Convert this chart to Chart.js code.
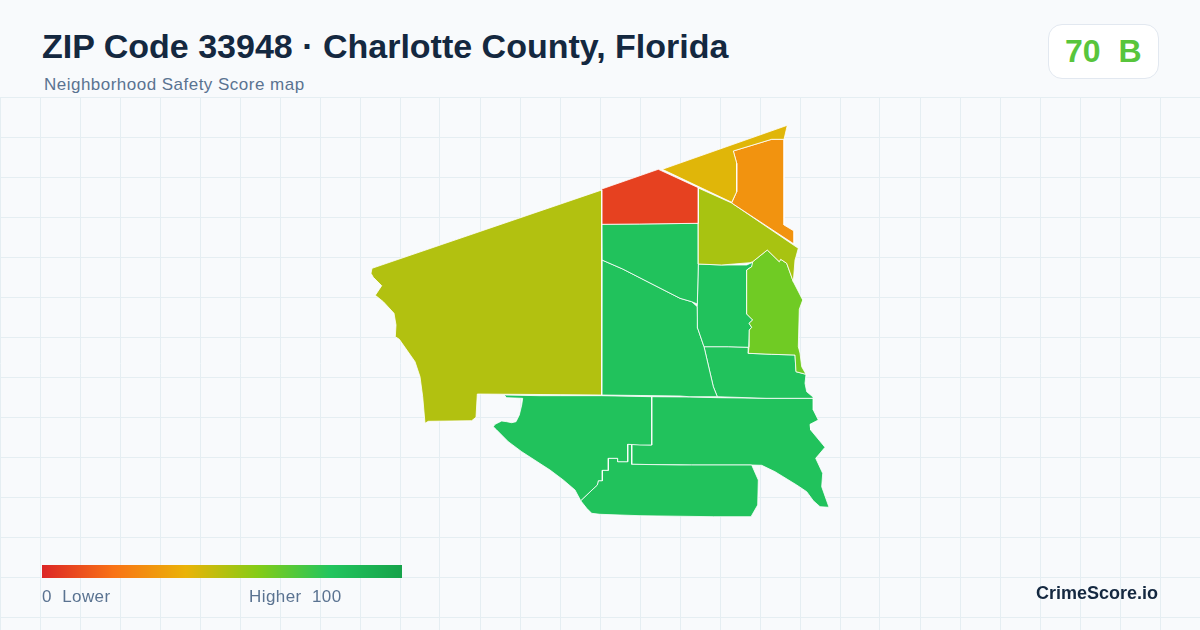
<!DOCTYPE html>
<html>
<head>
<meta charset="utf-8">
<script src="https://cdn.jsdelivr.net/npm/chart.js@4"></script>
<style>
html,body{margin:0;padding:0;width:1200px;height:630px;overflow:hidden;background:#f8fafc;font-family:"Liberation Sans",Arial,sans-serif}
#map{position:absolute;left:0;top:97px;width:1200px;height:533px;display:block}
.t{position:absolute;white-space:pre;line-height:1}
#title{left:42px;top:29px;font-size:34px;font-weight:700;color:#142840}
#sub{left:44px;top:76px;font-size:17px;letter-spacing:0.48px;color:#5a7391}
#badge{position:absolute;left:1048px;top:24px;width:109px;height:53px;background:#fff;border:1px solid #e2e8f0;border-radius:14px}
#score{left:1065px;top:35px;font-size:32px;font-weight:700;color:#58c53c}
#bar{position:absolute;left:42px;top:565px;width:360px;height:13px;background:linear-gradient(90deg,#dc2626 0%,#f97316 20%,#eab308 40%,#84cc16 60%,#22c55e 80%,#16a34a 100%)}
.l{font-size:17px;letter-spacing:0.42px;color:#5a7391;top:588px}
#brand{right:42px;top:584px;font-size:18px;font-weight:700;color:#142840}
</style>
</head>
<body>
<canvas id="map" width="1200" height="533"></canvas>
<div class="t" id="title">ZIP Code 33948 · Charlotte County, Florida</div>
<div class="t" id="sub">Neighborhood Safety Score map</div>
<div id="badge"></div>
<div class="t" id="score">70  B</div>
<div id="bar"></div>
<div class="t l" style="left:42px">0  Lower</div>
<div class="t l" style="left:249px">Higher  100</div>
<div class="t" id="brand">CrimeScore.io</div>
<script>
const west=[[372,268.3],[601.7,190],[601.7,395],[477.3,394],[476,417.3],[471.7,420.7],[428.3,421.3],[425,423.3],[422.7,396.7],[420,376.7],[415,361.7],[399.3,339.3],[395.3,336.7],[396,325],[394,313.3],[383.3,301.7],[375.3,295.3],[381.7,285.7],[373.3,277.3],[371,273.3],[372,268.3]];
const red=[[601.7,189],[658.3,169.3],[698.3,187.7],[698.3,223.3],[639.3,224],[601.7,224.3],[601.7,189]];
const yellow=[[662.3,169.3],[787.3,125.3],[784,139.3],[771.7,139.3],[733.3,151],[736.7,163.3],[736.7,191.7],[731.7,202.3],[662.3,169.3]];
const orange=[[733.3,151],[771.7,139.3],[784,139.3],[784,225],[794,231],[794,244],[731.7,203],[736.7,191.7],[736.7,163.3],[733.3,151]];
const olive=[[698.3,188],[731.7,203],[798.3,248.3],[796,256.7],[795,260],[793.3,281.7],[786.7,263.3],[780.7,259.3],[779.3,261.7],[767.3,250],[752.7,261.7],[750,262.7],[721.7,265],[698.3,264],[698.3,188]];
const lime=[[767.3,250],[779.3,261.7],[780.7,259.3],[786.7,263.3],[793.3,281.7],[802.7,300],[799.3,309.3],[798.3,346.7],[800,353],[801.7,366.7],[806,374.3],[796,371.7],[795,355],[771.7,354.3],[748.3,353.3],[749,346.7],[749.3,330],[751.7,327.3],[749,323.3],[752.7,320],[746.7,314],[746.7,270],[751.7,266.7],[752.7,261.7],[767.3,250]];
const blockB=[[698.3,264],[721.7,265],[746.7,265],[751.7,262.7],[752.7,264],[751.7,266.7],[746.7,270],[746.7,314],[752.7,320],[749,323.3],[751.7,327.3],[749.3,330],[748.7,347.3],[728.3,346.7],[704,346.7],[697.7,328.3],[697.3,306.7],[698.3,264]];
const blockA=[[601.7,224.3],[639.3,224],[698.3,223.3],[698.3,264],[697.3,304],[691.7,301.7],[680,298.3],[622.7,269],[602,260],[601.7,224.3]];
const blockC=[[602,260],[622.7,269],[680,298.3],[691.7,301.7],[697.3,306.7],[697.7,328.3],[704,346.7],[713.3,386.7],[717.3,396.7],[689,396.7],[680,396],[601.7,395],[602,260]];
const blockD=[[704,346.7],[728.3,346.7],[748.7,347.3],[748.3,353.3],[771.7,354.3],[795,355],[796,371.7],[806,374.3],[805,383.3],[806.7,391.7],[813.3,397.3],[813.3,398.3],[766,398.3],[717.3,396.7],[713.3,386.7],[704,346.7]];
const blockE=[[504,395],[540,395.7],[601.7,395.7],[651.7,396.7],[651.7,445],[640,445],[627.7,444.3],[627.7,461.7],[617.7,461.7],[617.7,458.3],[608.3,458.3],[608.3,470.3],[602.3,470.3],[602.3,480.7],[598.3,480.7],[597.3,485],[580.7,500.7],[575,490],[563.3,480],[550,470],[521.7,451.7],[508.3,441.7],[496.7,430],[493.3,426.7],[495,424.3],[501.7,421],[506.7,421.7],[511.7,422.7],[516,421.7],[519.3,415],[521.7,405],[522.7,398.3],[506.7,397.7],[504,395]];
const blockF=[[580.7,500.7],[597.3,485],[598.3,480.7],[602.3,480.7],[602.3,470.3],[608.3,470.3],[608.3,458.3],[617.7,458.3],[617.7,461.7],[627.7,461.7],[627.7,444.3],[631.7,444.3],[631.7,464.3],[680,465],[691.7,465],[751.7,465],[758.3,480],[757.7,505],[751,516.7],[713.3,516.7],[640,515.7],[600,514.3],[591.7,513.3],[586.7,508.3],[580.7,500.7]];
const blockG=[[651.7,396.7],[689.3,397],[718.3,397.7],[766,398.3],[813.3,398.3],[813.3,410],[818.3,420],[810,424.3],[810.7,430],[825,447.3],[815.7,458.3],[822.7,473.3],[821.7,486.7],[829,507.3],[820,506.7],[813.3,500.7],[806.7,491.7],[796.7,485],[775,471.7],[761.7,465.3],[751.7,465],[691.7,465],[631.7,464.3],[631.7,444.3],[651.7,445],[651.7,396.7]];

const regions=[west,red,yellow,orange,olive,lime,blockA,blockB,blockC,blockD,blockE,blockF,blockG];
const scores=[51,7,42,30,53,64,82,82,82,82,82,82,82];
const gridX=[];for(let v=0;v<=1200;v+=40)gridX.push(v);
const gridY=[];for(let v=97;v<=630;v+=40)gridY.push(v);
const stops=[[220,38,38],[249,115,22],[234,179,8],[132,204,22],[34,197,94],[22,163,74]];
function scoreColor(s){const p=Math.min(s/20,4.999),i=Math.floor(p),f=p-i;const c=stops[i].map((a,k)=>Math.round(a+(stops[i+1][k]-a)*f));return `rgb(${c[0]},${c[1]},${c[2]})`;}

const polygonFill={id:'polygonFill',beforeDatasetDraw(chart,args){
  const meta=args.meta,ctx=chart.ctx;
  ctx.save();ctx.beginPath();
  meta.data.forEach((p,i)=>i?ctx.lineTo(p.x,p.y):ctx.moveTo(p.x,p.y));
  ctx.closePath();ctx.fillStyle=chart.data.datasets[args.index].backgroundColor;ctx.fill();ctx.restore();
}};
new Chart(document.getElementById('map'),{
  type:'scatter',
  plugins:[polygonFill],
  data:{datasets:regions.map((r,i)=>({data:r.map(([x,y])=>({x,y})),showLine:true,fill:false,tension:0,backgroundColor:scoreColor(scores[i]),borderColor:'#ffffff',borderWidth:0.8,pointRadius:0,pointHoverRadius:0,clip:false}))},
  options:{responsive:false,animation:false,events:[],layout:{padding:0},
    plugins:{legend:{display:false},tooltip:{enabled:false},title:{display:false}},
    scales:{
      x:{type:'linear',min:0,max:1200,afterBuildTicks(a){a.ticks=gridX.map(value=>({value}));},ticks:{display:false},border:{display:false},grid:{color:'#e5eef2',lineWidth:1,drawTicks:false}},
      y:{type:'linear',min:97,max:630,reverse:true,afterBuildTicks(a){a.ticks=gridY.map(value=>({value}));},ticks:{display:false},border:{display:false},grid:{color:'#e5eef2',lineWidth:1,drawTicks:false}}
    }}
});
</script>
</body>
</html>
